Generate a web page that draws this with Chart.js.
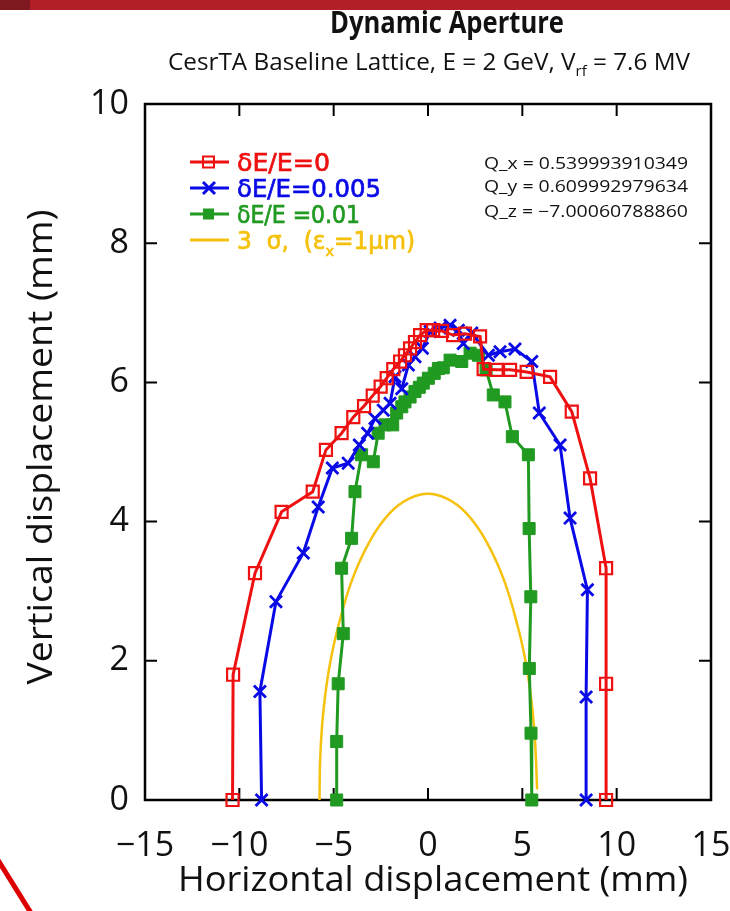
<!DOCTYPE html>
<html>
<head>
<meta charset="utf-8">
<script src="https://cdn.jsdelivr.net/npm/chart.js@4.4.0/dist/chart.umd.min.js"></script>
<style>
  html, body { margin: 0; padding: 0; background: #fff; }
  #wrap { width: 730px; height: 911px; position: relative; }
</style>
</head>
<body>
<div id="wrap"><canvas id="c"></canvas></div>
<script>
// values (mm)
const redX = [-10.36, -10.33, -9.17, -7.76, -6.11, -5.41, -4.58, -3.96, -3.39, -2.93, -2.51, -2.19, -1.84, -1.48, -1.22, -0.95, -0.69, -0.42, -0.07, 0.27, 0.74, 1.33, 1.96, 2.76, 2.95, 3.64, 4.35, 5.23, 6.47, 7.62, 8.59, 9.44, 9.44, 9.44];
const redY = [0, 1.80, 3.26, 4.14, 4.43, 5.03, 5.27, 5.50, 5.66, 5.81, 5.94, 6.06, 6.19, 6.30, 6.39, 6.49, 6.58, 6.68, 6.75, 6.75, 6.74, 6.68, 6.70, 6.66, 6.19, 6.18, 6.18, 6.15, 6.08, 5.58, 4.62, 3.33, 1.67, 0];

const blueX = [-8.82, -8.91, -8.06, -6.61, -5.82, -5.07, -4.23, -3.64, -3.20, -2.81, -2.37, -2.01, -1.75, -1.39, -1.04, -0.69, -0.30, 0.11, 0.64, 1.17, 1.61, 1.87, 2.32, 3.20, 3.82, 4.61, 5.50, 5.90, 7.00, 7.53, 8.45, 8.38, 8.38];
const blueY = [0, 1.56, 2.85, 3.55, 4.21, 4.77, 4.84, 5.10, 5.27, 5.48, 5.60, 5.70, 6.08, 5.91, 6.25, 6.37, 6.49, 6.73, 6.78, 6.82, 6.75, 6.56, 6.71, 6.39, 6.44, 6.48, 6.30, 5.56, 5.10, 4.05, 3.02, 1.48, 0];

const greenX = [-4.84, -4.84, -4.76, -4.49, -4.58, -4.05, -3.87, -3.52, -2.90, -2.64, -2.28, -1.87, -1.66, -1.39, -1.22, -0.95, -0.69, -0.46, -0.25, 0.02, 0.33, 0.55, 0.81, 1.17, 1.79, 2.23, 2.67, 3.08, 3.46, 4.08, 4.47, 5.32, 5.36, 5.45, 5.37, 5.46, 5.50];
const greenY = [0, 0.84, 1.67, 2.39, 3.33, 3.76, 4.43, 4.96, 4.86, 5.27, 5.39, 5.39, 5.56, 5.65, 5.72, 5.79, 5.87, 5.93, 5.99, 6.06, 6.13, 6.20, 6.21, 6.32, 6.30, 6.42, 6.39, 6.18, 5.82, 5.72, 5.22, 4.96, 3.90, 2.92, 1.89, 0.96, 0];

// 3 sigma beam envelope
const sigmaX = [-5.75, -5.72, -5.62, -5.45, -5.2, -4.8, -4.0, -3.0, -2.0, -1.0, 0, 1.0, 2.0, 3.0, 4.0, 4.8, 5.2, 5.45, 5.62, 5.72, 5.78];
const sigmaY = [0, 0.55, 1.05, 1.5, 1.95, 2.45, 3.18, 3.76, 4.13, 4.33, 4.4, 4.33, 4.13, 3.76, 3.18, 2.45, 1.95, 1.5, 1.05, 0.6, 0.15];

const xTicks = [-15, -10, -5, 0, 5, 10, 15];
const yTicks = [0, 2, 4, 6, 8, 10];

const legendLabels = [
  [{ t: 'δE/E=0' }],
  [{ t: 'δE/E=0.005' }],
  [{ t: 'δE/E =0.01' }],
  [{ t: '3  σ,  (ε' }, { t: 'x', sub: true }, { t: '=1μm)' }]
];
const tuneLines = ['Q_x = 0.539993910349', 'Q_y = 0.609992979634', 'Q_z = \u22127.00060788860'];

const RED = '#ee1111';
const BLUE = '#0a0ae6';
const GREEN = '#219a21';
const GOLD = '#f5c10c';
const SANS = '"Open Sans", sans-serif';
const GNU = '"DejaVu Sans", sans-serif';

const pts = (xs, ys) => xs.map((x, i) => ({ x: x, y: ys[i] }));
const fmt = v => (v < 0 ? '\u2212' + Math.abs(v) : String(v));

// text with optional subscripts, squeezed to a target width
function drawRich(ctx, segs, x, y, size, opt) {
  const o = Object.assign({ family: SANS, weight: 'normal', color: '#111', align: 'left', width: null, stroke: 0 }, opt);
  const font = s => o.weight + ' ' + s + 'px ' + o.family;
  let w = 0;
  segs.forEach(s => {
    ctx.font = font(s.sub ? size * 0.62 : size);
    s.w = ctx.measureText(s.t).width;
    w += s.w;
  });
  const sx = o.width ? o.width / w : 1;
  const total = w * sx;
  let x0 = x;
  if (o.align === 'center') x0 = x - total / 2;
  if (o.align === 'right') x0 = x - total;
  ctx.save();
  ctx.translate(x0, y);
  ctx.scale(sx, 1);
  ctx.fillStyle = o.color;
  ctx.strokeStyle = o.color;
  ctx.lineWidth = o.stroke;
  ctx.textAlign = 'left';
  ctx.textBaseline = 'alphabetic';
  let cx = 0;
  segs.forEach(s => {
    ctx.font = font(s.sub ? size * 0.62 : size);
    const dy = s.sub ? size * 0.28 : 0;
    ctx.fillText(s.t, cx, dy);
    if (o.stroke) ctx.strokeText(s.t, cx, dy);
    cx += s.w;
  });
  ctx.restore();
}

const decor = {
  id: 'decor',
  beforeDraw(chart) {
    const ctx = chart.ctx;
    ctx.save();
    ctx.fillStyle = '#fff';
    ctx.fillRect(0, 0, chart.width, chart.height);
    // slide banner remnants
    ctx.fillStyle = '#b21f27';
    ctx.fillRect(0, 0, chart.width, 10);
    ctx.fillStyle = '#7e1a1f';
    ctx.fillRect(0, 0, 30, 10);
    ctx.strokeStyle = '#dd0000';
    ctx.lineWidth = 5;
    ctx.beginPath();
    ctx.moveTo(-2, 860);
    ctx.lineTo(31, 913);
    ctx.stroke();
    ctx.restore();
  },
  beforeDatasetsDraw(chart) {
    const ctx = chart.ctx;
    const a = chart.chartArea;
    const xs = chart.scales.x, ys = chart.scales.y;
    ctx.save();
    ctx.strokeStyle = '#000';
    ctx.lineWidth = 2;
    ctx.beginPath();
    xTicks.slice(1, -1).forEach(v => {
      const px = xs.getPixelForValue(v);
      ctx.moveTo(px, a.bottom); ctx.lineTo(px, a.bottom - 12);
      ctx.moveTo(px, a.top); ctx.lineTo(px, a.top + 12);
    });
    yTicks.slice(1, -1).forEach(v => {
      const py = ys.getPixelForValue(v);
      ctx.moveTo(a.left, py); ctx.lineTo(a.left + 12, py);
      ctx.moveTo(a.right, py); ctx.lineTo(a.right - 12, py);
    });
    ctx.stroke();
    ctx.lineWidth = 2.5;
    ctx.strokeRect(a.left, a.top, a.right - a.left, a.bottom - a.top);
    ctx.restore();
  },
  afterDraw(chart) {
    const ctx = chart.ctx;
    // titles
    drawRich(ctx, [{ t: 'Dynamic Aperture' }], 447, 33, 31, { weight: 'bold', align: 'center', width: 234 });
    drawRich(ctx, [{ t: 'CesrTA Baseline Lattice, E = 2 GeV, V' }, { t: 'rf', sub: true }, { t: ' = 7.6 MV' }],
      429, 70, 23, { align: 'center', width: 522 });
    // axis titles
    drawRich(ctx, [{ t: 'Horizontal displacement (mm)' }], 433, 891, 35, { align: 'center', width: 510 });
    ctx.save();
    ctx.translate(52, 447);
    ctx.rotate(-Math.PI / 2);
    drawRich(ctx, [{ t: 'Vertical displacement (mm)' }], 0, 0, 35, { align: 'center', width: 475 });
    ctx.restore();
    // tunes
    const tuneY = [169, 192, 217];
    tuneLines.forEach((t, i) => drawRich(ctx, [{ t: t }], 484, tuneY[i], 16, { width: 204 }));
    // legend
    const rows = [162, 188, 214, 240];
    const cols = [RED, BLUE, GREEN, GOLD];
    const widths = [93, 144, 123, 178];
    rows.forEach((ry, i) => {
      ctx.save();
      ctx.strokeStyle = cols[i];
      ctx.fillStyle = cols[i];
      ctx.lineWidth = 3;
      ctx.beginPath();
      ctx.moveTo(190, ry); ctx.lineTo(229, ry);
      ctx.stroke();
      if (i === 0) { ctx.lineWidth = 2; ctx.strokeRect(203, ry - 5.5, 11, 11); }
      if (i === 1) {
        ctx.beginPath();
        ctx.moveTo(203, ry - 6); ctx.lineTo(215, ry + 6);
        ctx.moveTo(203, ry + 6); ctx.lineTo(215, ry - 6);
        ctx.stroke();
      }
      if (i === 2) ctx.fillRect(203, ry - 5.5, 11, 11);
      ctx.restore();
      drawRich(ctx, legendLabels[i], 237, ry + 9, 24, { family: GNU, color: cols[i], width: widths[i], stroke: 0.7 });
    });
  }
};

new Chart(document.getElementById('c'), {
  type: 'scatter',
  data: {
    datasets: [
      {
        label: 'δE/E=0', data: pts(redX, redY), showLine: true, clip: false,
        borderColor: RED, borderWidth: 3, pointStyle: 'rect', pointRadius: 8.5,
        pointBorderWidth: 2.2, pointBorderColor: RED, pointBackgroundColor: 'rgba(0,0,0,0)'
      },
      {
        label: 'δE/E=0.005', data: pts(blueX, blueY), showLine: true, clip: false,
        borderColor: BLUE, borderWidth: 3, pointStyle: 'crossRot', pointRadius: 8.5,
        pointBorderWidth: 2.8, pointBorderColor: BLUE
      },
      {
        label: 'δE/E =0.01', data: pts(greenX, greenY), showLine: true, clip: false,
        borderColor: GREEN, borderWidth: 3, pointStyle: 'rect', pointRadius: 8.5,
        pointBorderWidth: 1, pointBorderColor: GREEN, pointBackgroundColor: GREEN
      },
      {
        label: '3 σ', data: pts(sigmaX, sigmaY), showLine: true, clip: false,
        borderColor: GOLD, borderWidth: 2.5, pointRadius: 0, tension: 0.4
      }
    ]
  },
  options: {
    responsive: true,
    maintainAspectRatio: false,
    animation: false,
    layout: { padding: { top: 104, right: 19, left: 0, bottom: 0 } },
    plugins: { legend: { display: false }, tooltip: { enabled: false } },
    scales: {
      x: {
        type: 'linear', min: -15, max: 15,
        afterFit: s => { s.height = 111; s.paddingLeft = 0; s.paddingRight = 0; },
        afterBuildTicks: s => { s.ticks = xTicks.map(v => ({ value: v })); },
        ticks: { color: '#111', font: { family: SANS, size: 34 }, padding: 26, maxRotation: 0, callback: fmt },
        grid: { display: false, drawTicks: false },
        border: { display: false }
      },
      y: {
        type: 'linear', min: 0, max: 10,
        afterFit: s => { s.width = 145; s.paddingTop = 0; s.paddingBottom = 0; },
        afterBuildTicks: s => { s.ticks = yTicks.map(v => ({ value: v })); },
        ticks: { color: '#111', font: { family: SANS, size: 34 }, padding: 16, callback: fmt },
        grid: { display: false, drawTicks: false },
        border: { display: false }
      }
    }
  },
  plugins: [decor]
});
</script>
</body>
</html>
